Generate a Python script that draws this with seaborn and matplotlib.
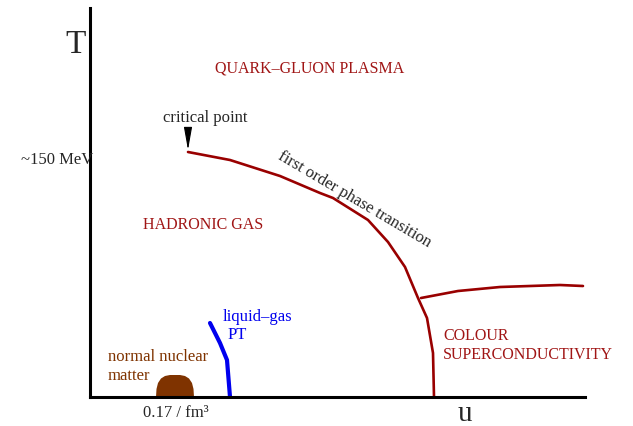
import numpy as np
import pandas as pd
import matplotlib
matplotlib.use("Agg")
import matplotlib.pyplot as plt
import seaborn as sns

# ------------------------------------------------------
# Data (schematic QCD phase diagram, arbitrary units)
# ------------------------------------------------------

# first order phase transition line, from the critical point down to T = 0
fo_mu = [98, 140, 190, 230, 243, 278, 298, 315, 328, 337, 343, 344]
fo_T = [245, 237, 221, 204, 199, 177, 155, 130, 99, 79, 44, 0]

# boundary of the colour superconducting phase
csc_mu = [331, 368, 410, 470, 493]
csc_T = [99, 106, 110, 112, 111]

# liquid-gas phase transition
lg_mu = [120, 130, 137, 140]
lg_T = [74, 54, 37, 0]

# normal nuclear matter blob
nm_mu = [66, 66.5, 68, 71, 75, 80, 90, 95, 99, 102, 103.5, 104]
nm_T = [0, 8, 14, 18.5, 21, 22, 22, 21, 18.5, 14, 8, 0]

critical_point = (98, 247)

dark_red = "#990000"
text_red = "#a01515"
brown = "#7f3300"
blue = "#0000ee"

# ------------------------------------------------------
# Figure
# ------------------------------------------------------

sns.set_style("white")
plt.rcParams["font.family"] = ["Liberation Serif", "DejaVu Serif"]

fig = plt.figure(figsize=(6.33, 4.26), dpi=100)
ax = fig.add_axes([90 / 633, 29 / 426, 495 / 633, 389 / 426])
ax.set_xlim(0, 495)
ax.set_ylim(0, 389)

fo = pd.DataFrame({"mu": fo_mu, "T": fo_T})
csc = pd.DataFrame({"mu": csc_mu, "T": csc_T})
lg = pd.DataFrame({"mu": lg_mu, "T": lg_T})

sns.lineplot(data=fo, x="mu", y="T", sort=False, color=dark_red, lw=1.9, ax=ax)
sns.lineplot(data=csc, x="mu", y="T", sort=False, color=dark_red, lw=1.9, ax=ax)
sns.lineplot(data=lg, x="mu", y="T", sort=False, color=blue, lw=3, ax=ax)
ax.fill(nm_mu, nm_T, color=brown, lw=0)

# arrow to the critical point
ax.annotate("", xy=critical_point, xytext=(critical_point[0], critical_point[1] + 21),
            arrowprops=dict(arrowstyle="-|>,head_length=1.4,head_width=0.25",
                            color="black", lw=0.8, shrinkA=0, shrinkB=0))

# spines as the axes of the diagram
sns.despine(ax=ax)
for side in ["left", "bottom"]:
    ax.spines[side].set_linewidth(2.2)
    ax.spines[side].set_color("black")
ax.set_xticks([])
ax.set_yticks([])
ax.set_xlabel("")
ax.set_ylabel("")

# ------------------------------------------------------
# Labels
# ------------------------------------------------------

ax.text(-14, 352, "T", fontsize=24, ha="center", va="center", clip_on=False)
ax.text(375, -24, "u", fontsize=21, ha="center", va="baseline", clip_on=False)
ax.text(3, 237, "~150 MeV", fontsize=12, ha="right", va="center", clip_on=False)
ax.text(86, -16, "0.17 / fm\u00b3", fontsize=12, ha="center", va="center", clip_on=False)

ax.text(220, 329, "QUARK\u2013GLUON PLASMA", fontsize=11.5, color=text_red, ha="center", va="center")
ax.text(113, 172, "HADRONIC GAS", fontsize=11.5, color=text_red, ha="center", va="center")
ax.text(353, 61, "COLOUR", fontsize=11.5, color=text_red, ha="left", va="center")
ax.text(353, 42, "SUPERCONDUCTIVITY", fontsize=11.5, color=text_red, ha="left", va="center")

ax.text(115, 279, "critical point", fontsize=12, ha="center", va="center")
ax.text(264, 197, "first order phase transition", fontsize=12, rotation=-30.5,
        rotation_mode="anchor", ha="center", va="center")

ax.text(133, 80, "liquid\u2013gas", fontsize=12, color=blue, ha="left", va="center")
ax.text(138, 62, "PT", fontsize=12, color=blue, ha="left", va="center")

ax.text(18, 40, "normal nuclear", fontsize=12, color=brown, ha="left", va="center")
ax.text(18, 21, "matter", fontsize=12, color=brown, ha="left", va="center")

fig.savefig("out.png", dpi=100)
